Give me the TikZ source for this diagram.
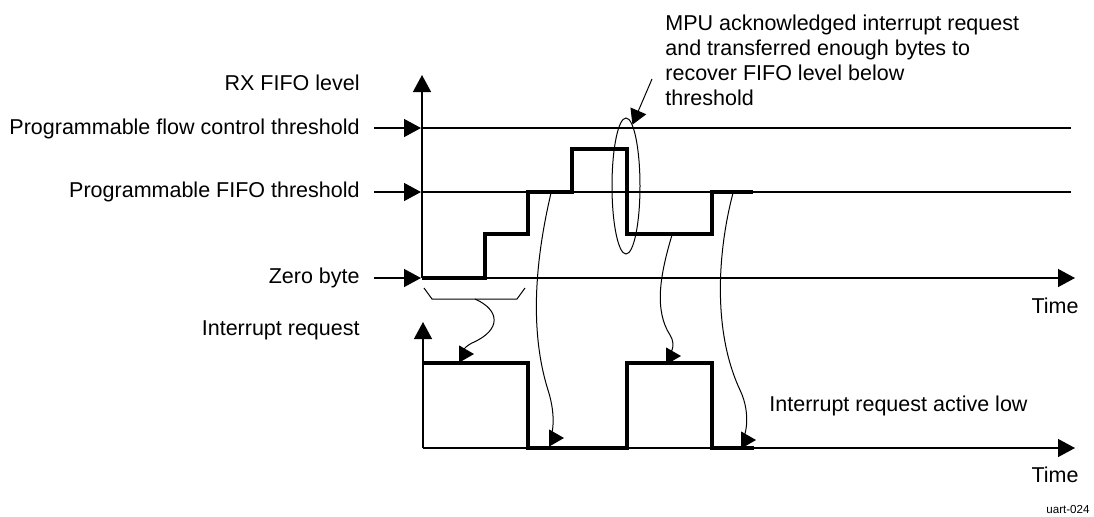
\documentclass[tikz,border=0pt]{standalone}
\usepackage{fontspec}
\setmainfont{Liberation Sans}
\usetikzlibrary{shapes,arrows.meta,positioning,calc}

\begin{document}
\begin{tikzpicture}[
    x=0.5pt, y=-0.5pt,
    lbl/.style={font=\fontsize{10.75}{12.5}\selectfont, inner sep=0pt},
    axis/.style={line width=0.7pt, -{Triangle[length=8.5pt, width=9pt]}},
    thin/.style={line width=0.6pt},
    signal/.style={line width=2pt, line join=miter},
    wig/.style={line width=0.5pt, -{Triangle[length=7.5pt, width=8.5pt]}},
    >=Stealth
]
\useasboundingbox (0,0) rectangle (1094,516);
% upper chart
\coordinate (o1) at (422,278);
\coordinate (fct) at (421,128);
\coordinate (fth) at (421,192);
\coordinate (zb) at (421,278);
\draw[axis] (o1) -- (422,75);
\draw[axis] (o1) -- (1075,278);
\draw[thin] (422,128) -- (1071,128);
\draw[thin] (422,192) -- (1071,192);
\node[lbl, anchor=east] (rxlbl) at (360,83) {RX FIFO level};
\node[lbl, anchor=east] (flowlbl) at (360,129) {Programmable flow control threshold};
\node[lbl, anchor=east] (fifolbl) at (360,192) {Programmable FIFO threshold};
\node[lbl, anchor=east] (zerolbl) at (360,278) {Zero byte};
\draw[axis, shorten <=7pt] (flowlbl.east |- fct) -- (fct);
\draw[axis, shorten <=7pt] (fifolbl.east |- fth) -- (fth);
\draw[axis, shorten <=7pt] (zerolbl.east |- zb) -- (zb);
\node[lbl] (time1) at (1055,306) {Time};
\draw[signal] (422,278) -- (485,278) -- (485,234) -- (528,234) -- (528,192)
    -- (572,192) -- (572,149) -- (627,149) -- (627,234) -- (712,234)
    -- (712,192) -- (753,192);
\node[draw, ellipse, line width=0.5pt, minimum width=14pt, minimum height=68pt,
      inner sep=0pt] (burst) at (626,186) {};
\node[lbl, anchor=north west, align=left] (note) at (665,15)
    {MPU acknowledged interrupt request\\and transferred enough bytes to\\recover FIFO level below\\threshold};
\coordinate (notept) at (652,79);
\draw[wig] (notept) -- (burst.84);
% lower chart
\coordinate (o2) at (423,448);
\draw[axis] (o2) -- (423,322);
\draw[axis] (o2) -- (1075,448);
\node[lbl, anchor=east] (irqlbl) at (360,330) {Interrupt request};
\node[lbl, anchor=west] (lowlbl) at (769,406) {Interrupt request active low};
\node[lbl] (time2) at (1055,475) {Time};
\draw[signal] (423,363) -- (528,363) -- (528,448) -- (627,448) -- (627,363)
    -- (712,363) -- (712,448) -- (754,448);
\node[font=\fontsize{5.8}{7}\selectfont, inner sep=0pt, anchor=east] (tag) at (1090,509) {uart-024};
% links between charts
\draw[thin, line width=0.5pt] (424,288) -- (432,299) -- (517,299) -- (525,288);
\coordinate (brc) at (475,299);
\coordinate (ir1) at (474,354);
\coordinate (s1) at (551,193);
\coordinate (ir2) at (564,438);
\coordinate (s2) at (672,235);
\coordinate (ir3) at (681,356);
\coordinate (s3) at (733,193);
\coordinate (ir4) at (756,440);
\draw[wig] (brc) .. controls (500,310) and (502,330) .. (472,343)
    .. controls (462,348) and (462,354) .. (ir1);
\draw[wig] (s1) .. controls (540,240) and (526,320) .. (548,390)
    .. controls (557,418) and (552,438) .. (ir2);
\draw[wig] (s2) .. controls (660,275) and (654,310) .. (670,335)
    .. controls (677,346) and (670,356) .. (ir3);
\draw[wig] (s3) .. controls (718,250) and (712,330) .. (740,390)
    .. controls (752,415) and (745,440) .. (ir4);
\end{tikzpicture}
\end{document}
